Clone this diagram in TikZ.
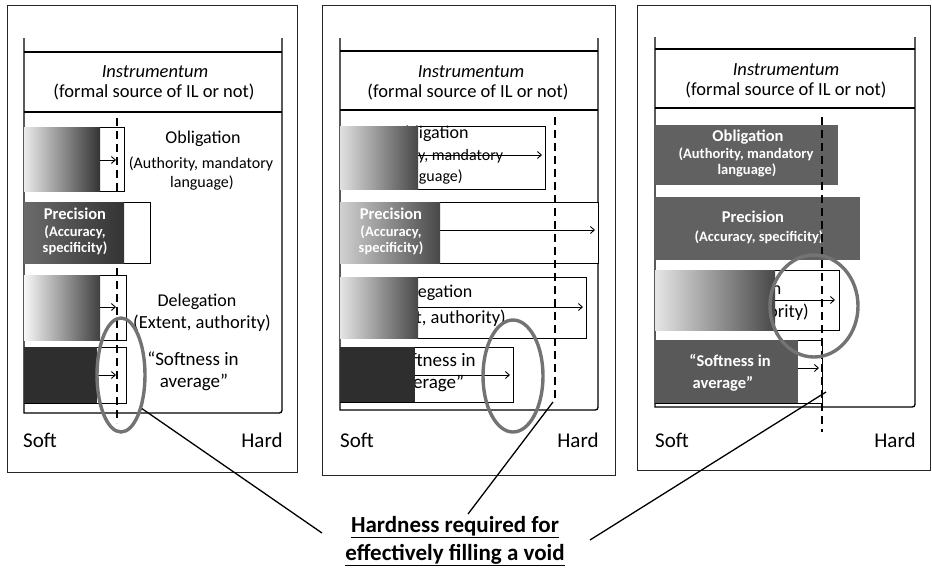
\documentclass[tikz,border=0pt]{standalone}
\usepackage{fontspec}
\setmainfont{Carlito}
\usetikzlibrary{arrows.meta,shapes.geometric}
\begin{document}
\begin{tikzpicture}[x=1pt,y=-1pt,
  pframe/.style={draw=black!85,line width=1pt},
  ibox/.style={draw=black,line width=1.3pt},
  wbox/.style={draw=black,line width=0.9pt,fill=white},
  dline/.style={draw=black,line width=1.4pt,dash pattern=on 8pt off 5pt},
  arw/.style={draw=black,line width=0.9pt,-{Straight Barb[length=4pt,width=7pt]}},
  ring/.style={draw=black!55,line width=3.4pt,ellipse,inner sep=0pt},
  callout/.style={draw=black,line width=1.3pt},
  ttl/.style={font=\fontsize{18}{20}\selectfont,inner sep=0pt},
  sft/.style={font=\fontsize{19}{21}\selectfont,inner sep=0pt},
  subt/.style={font=\fontsize{16}{18}\selectfont,inner sep=0pt},
  dsub/.style={font=\fontsize{18.5}{20}\selectfont,inner sep=0pt},
  ins/.style={font=\fontsize{18.5}{20}\selectfont\itshape,inner sep=0pt},
  src/.style={font=\fontsize{18.5}{20}\selectfont,inner sep=0pt},
  axl/.style={font=\fontsize{21}{23}\selectfont,inner sep=0pt},
  wt/.style={text=white,font=\fontsize{16.5}{18}\selectfont\bfseries,inner sep=0pt},
  ws/.style={text=white,font=\fontsize{14.5}{16}\selectfont\bfseries,inner sep=0pt},
  req/.style={font=\fontsize{23}{26}\selectfont\bfseries,inner sep=0pt,anchor=base}
]
\useasboundingbox (0,0) rectangle (932,571);

% ================= Panel 1 =================
\draw[pframe] (7,5) rectangle (297,472);
\draw[ibox] (24,38) -- (24,413) -- (276,413) .. controls (282,413) .. (282,407) -- (282,38);
\draw[ibox] (24,52) -- (282,52);
\draw[ibox] (24,112) -- (282,112);
\node[ins] (ins1) at (155,72) {Instrumentum};
\node[src] (src1) at (154,92) {(formal source of IL or not)};
% obligation
\draw[wbox] (24,127) rectangle (124,191);
\shade[left color=black!8,right color=black!80] (24,127) rectangle (100,191);
\draw[dline] (117,118) -- (117,193);
\coordinate (a1s) at (100,160); \coordinate (a1e) at (116,160);
\draw[arw] (a1s) -- (a1e);
\node[ttl] (obl1a) at (203,139) {Obligation};
\node[subt] (obl1b) at (201,164) {(Authority, mandatory};
\node[subt] (obl1c) at (202,183) {language)};
% precision
\draw[wbox] (24,202) rectangle (150,263);
\shade[left color=black!58,right color=black!80] (24,202) rectangle (124,263);
\node[wt] (pre1a) at (75,214) {Precision};
\node[ws] (pre1b) at (75,232) {(Accuracy,};
\node[ws] (pre1c) at (75,248) {specificity)};
% delegation
\draw[wbox] (24,275) rectangle (126,340);
\shade[left color=black!3,right color=black!75] (24,275) rectangle (100,340);
\draw[dline] (117,268) -- (117,345);
\coordinate (a2s) at (100,307); \coordinate (a2e) at (116,307);
\draw[arw] (a2s) -- (a2e);
\node[ttl] (del1a) at (197,302) {Delegation};
\node[dsub] (del1b) at (202,323) {(Extent, authority)};
% softness
\draw[wbox] (24,347) rectangle (126,403);
\fill[black!82] (24,347) rectangle (97,403);
\draw[dline] (117,345) -- (117,423);
\coordinate (a3s) at (97,375); \coordinate (a3e) at (116,375);
\draw[arw] (a3s) -- (a3e);
\node[sft] (sof1a) at (193,359) {“Softness in};
\node[sft] (sof1b) at (194,382) {average”};
\node[axl] (soft1) at (40,440) {Soft};
\node[axl] (hard1) at (262,440) {Hard};
\node[ring,minimum width=48pt,minimum height=114pt] (e1) at (121,375) {};

% ================= Panel 2 =================
\draw[pframe] (322,5) rectangle (615,475);
\draw[ibox] (340,38) -- (340,410) -- (592,410) .. controls (598,410) .. (598,404) -- (598,38);
\draw[ibox] (340,51) -- (598,51);
\draw[ibox] (340,110) -- (598,110);
\node[ins] (ins2) at (471,72) {Instrumentum};
\node[src] (src2) at (468,92) {(formal source of IL or not)};
% obligation
\draw[wbox] (340,126) rectangle (545,189);
\node[ttl] (obl2a) at (431,134) {Obligation};
\node[subt] (obl2b) at (431,156) {(Authority, mandatory};
\node[subt] (obl2c) at (431,177) {language)};
\shade[left color=black!12,right color=black!72] (340,126) rectangle (418,189);
\coordinate (b1s) at (418,155); \coordinate (b1e) at (542,155);
\draw[arw] (b1s) -- (b1e);
% precision
\draw[wbox] (340,202) rectangle (598,263);
\shade[left color=black!18,right color=black!72] (340,202) rectangle (440,263);
\node[wt] (pre2a) at (391,214) {Precision};
\node[ws] (pre2b) at (391,232) {(Accuracy,};
\node[ws] (pre2c) at (391,248) {specificity)};
\coordinate (b2s) at (440,230); \coordinate (b2e) at (595,230);
\draw[arw] (b2s) -- (b2e);
% delegation
\draw[wbox] (340,277) rectangle (586,338);
\node[ttl] (del2a) at (433,293) {Delegation};
\node[dsub] (del2b) at (437,318) {(Extent, authority)};
\shade[left color=black!10,right color=black!72] (340,277) rectangle (418,338);
\coordinate (b3s) at (418,307); \coordinate (b3e) at (583,307);
\draw[arw] (b3s) -- (b3e);
% softness
\draw[wbox] (340,347) rectangle (513,402);
\node[sft] (sof2a) at (430,360) {“Softness in};
\node[sft] (sof2b) at (430,383) {average”};
\fill[black!82] (340,347) rectangle (415,402);
\coordinate (b4s) at (415,375); \coordinate (b4e) at (510,375);
\draw[arw] (b4s) -- (b4e);
\draw[dline] (555,117) -- (555,402);
\node[axl] (soft2) at (357,440) {Soft};
\node[axl] (hard2) at (578,440) {Hard};
\node[ring,minimum width=60pt,minimum height=112pt] (e2) at (513,376) {};

% ================= Panel 3 =================
\draw[pframe] (637,5) rectangle (930,470);
\draw[ibox] (655,37) -- (655,407) -- (909,407) .. controls (915,407) .. (915,401) -- (915,37);
\draw[ibox] (655,49) -- (915,49);
\draw[ibox] (655,108) -- (915,108);
\node[ins] (ins3) at (786,70) {Instrumentum};
\node[src] (src3) at (786,90) {(formal source of IL or not)};
% obligation
\fill[black!62] (655,125) rectangle (838,185);
\node[wt] (obl3a) at (748,137) {Obligation};
\node[ws] (obl3b) at (746,154) {(Authority, mandatory};
\node[ws] (obl3c) at (747,170) {language)};
% precision
\fill[black!62] (655,197) rectangle (860,260);
\node[wt] (pre3a) at (753,217) {Precision};
\node[ws] (pre3b) at (759,237) {(Accuracy, specificity)};
% delegation
\draw[wbox] (655,270) rectangle (839,330);
\node[ttl] (del3a) at (742,290) {Delegation};
\node[dsub] (del3b) at (740,312) {(Extent, authority)};
\shade[left color=black!10,right color=black!72] (655,270) rectangle (775,330);
\coordinate (c1s) at (775,300); \coordinate (c1e) at (835,300);
\draw[arw] (c1s) -- (c1e);
% softness
\draw[wbox] (655,340) rectangle (822,403);
\fill[black!65] (655,340) rectangle (798,403);
\coordinate (c2s) at (798,368); \coordinate (c2e) at (819,368);
\draw[arw] (c2s) -- (c2e);
\node[wt] (sof3a) at (730,360) {“Softness in};
\node[wt] (sof3b) at (723,384) {average”};
\draw[dline] (822,117) -- (822,432);
\node[axl] (soft3) at (672,440) {Soft};
\node[axl] (hard3) at (895,440) {Hard};
\node[ring,minimum width=88pt,minimum height=102pt] (e3) at (814,306) {};

% ================= Callout =================
\node[req] (req1) at (455,532) {\underline{Hardness required for}};
\node[req] (req2) at (455,560) {\underline{effectively filling a void}};
\coordinate (k1) at (322,533);
\coordinate (k2s) at (553,402);
\coordinate (k2) at (468,514);
\coordinate (k3s) at (826,392);
\coordinate (k3) at (590,540);
\draw[callout] (e1.-58) -- (k1);
\draw[callout] (k2s) -- (k2);
\draw[callout] (k3s) -- (k3);
\end{tikzpicture}
\end{document}
